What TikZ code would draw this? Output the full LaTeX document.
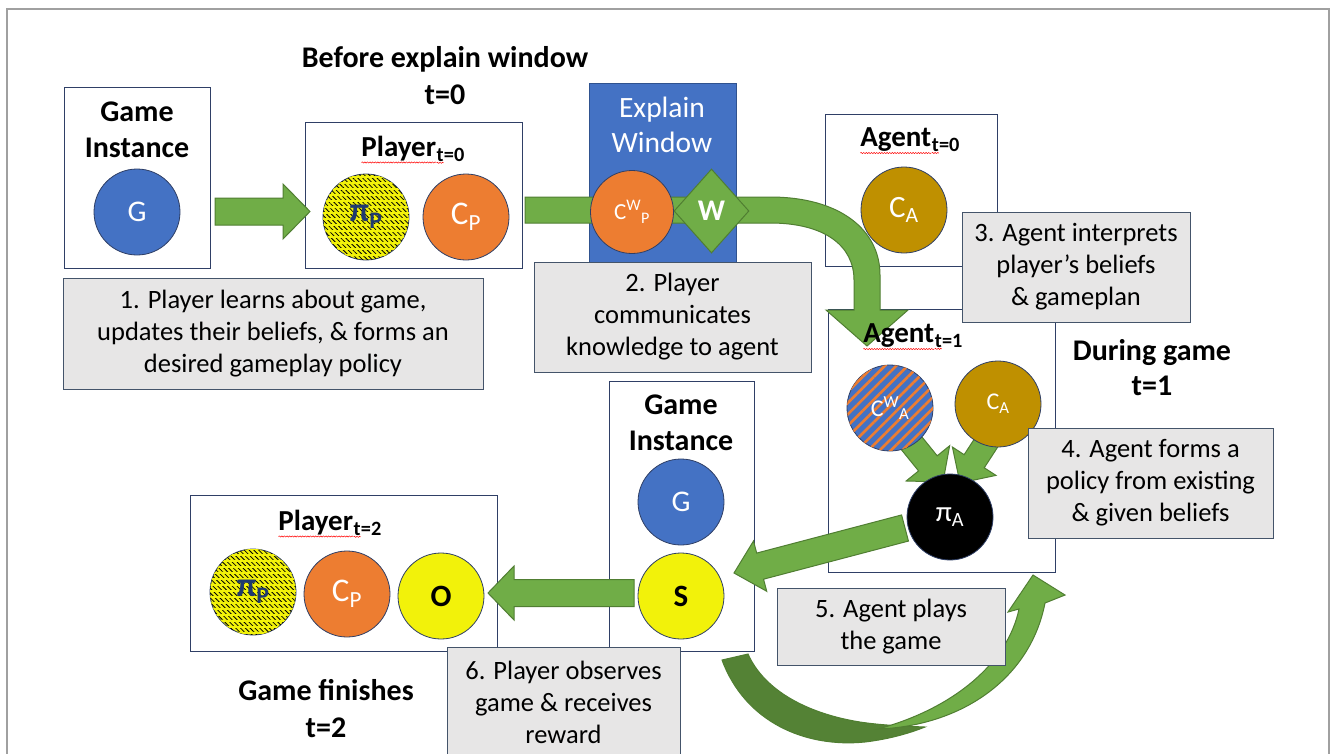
\documentclass[tikz,border=0pt]{standalone}
\usepackage{fontspec}
\setmainfont{Carlito}
\usetikzlibrary{calc,patterns.meta,decorations.pathmorphing,shapes.geometric}

\definecolor{gblue}{HTML}{4472C4}
\definecolor{gblueline}{HTML}{2F528F}
\definecolor{gorange}{HTML}{ED7D31}
\definecolor{ggold}{HTML}{BF9000}
\definecolor{ggreen}{HTML}{70AD47}
\definecolor{gdgreen}{HTML}{548235}
\definecolor{gline}{HTML}{507E32}
\definecolor{navy}{HTML}{2F3F66}
\definecolor{lblfill}{HTML}{E7E6E6}
\definecolor{lblline}{HTML}{44546A}
\definecolor{gyellow}{HTML}{F2F20A}
\definecolor{pinavy}{HTML}{1F3A70}
\definecolor{framegray}{HTML}{A0A0A0}

\newcommand\squig[1]{\tikz[baseline=(sq.base)]{\node[inner sep=0pt,outer sep=0pt,anchor=base](sq){#1};\draw[red,line width=0.5pt,decorate,decoration={snake,amplitude=0.6pt,segment length=2.6pt}] ([yshift=-1.2pt]sq.south west) -- ([yshift=-1.2pt]sq.south east);}}

% block arrow: start, tip, half shaft, half head, head length
\newcommand\blockarr[5]{%
  \coordinate (hb) at ($(#2)!#5!(#1)$);
  \filldraw[arrowfill] ($(#1)!#3!90:(#2)$) -- ($(hb)!#3!90:(#2)$) -- ($(hb)!#4!90:(#2)$) -- (#2)
    -- ($(hb)!#4!-90:(#2)$) -- ($(hb)!#3!-90:(#2)$) -- ($(#1)!#3!-90:(#2)$) -- cycle;}

\tikzset{
  bx/.style={draw=navy,line width=1pt,inner sep=0pt},
  lbl/.style={draw=lblline,fill=lblfill,line width=1pt,inner sep=0pt,align=center,
    font=\fontsize{26.5}{32}\selectfont},
  hd/.style={align=center,font=\bfseries\fontsize{30}{36}\selectfont},
  ttl/.style={font=\bfseries\fontsize{29}{30}\selectfont,inner sep=0pt},
  circ/.style={circle,draw=navy,line width=0.8pt,minimum size=86pt,inner sep=0pt},
  arrowfill/.style={fill=ggreen,draw=gline,line width=1pt,line join=miter},
  hatch/.style={fill=gyellow,
    postaction={pattern={Lines[angle=-45,distance=3.4pt,line width=0.8pt]},pattern color=black},
    postaction={pattern={Lines[angle=0,distance=6pt,line width=1.4pt]},pattern color=gyellow}},
  stripes/.style={fill=gblue,
    postaction={pattern={Lines[angle=45,distance=8pt,line width=2.6pt]},pattern color=gorange}}
}

\begin{document}
\begin{tikzpicture}[x=1pt,y=-1pt]
\useasboundingbox (0,0) rectangle (1330,753);
\fill[white] (0,0) rectangle (1330,753);
% outer frame
\draw[framegray,line width=1.3pt] (7,770) -- (7,9) -- (1329,9) -- (1329,770);

% boxes
\node[bx,minimum width=146pt,minimum height=181pt] (gi1) at (137,177.5) {};
\node[bx,minimum width=217pt,minimum height=146pt] (p0) at (413.5,195) {};
\node[bx,minimum width=172pt,minimum height=152pt] (a0) at (911,190) {};
\node[bx,minimum width=227pt,minimum height=263pt] (a1) at (941.5,440.5) {};
\node[bx,minimum width=145pt,minimum height=270pt] (gi2) at (681.5,516) {};
\node[bx,minimum width=307pt,minimum height=156pt] (p2) at (343.5,573) {};
% explain window
\node[draw=gblueline,fill=gblue,line width=1pt,minimum width=147pt,minimum height=179pt] (ew) at (662.5,172.5) {};

% arrow 1
\coordinate (a1s) at (215,211.5);
\coordinate (a1t) at (310,211.5);
\blockarr{a1s}{a1t}{13.5pt}{27.5pt}{27pt}

% arrow 2 (bent)
\coordinate (b2s) at (525,197);
\coordinate (b2t) at (867,346);
\filldraw[arrowfill] (b2s) -- (770,197) .. controls (840,197) and (880,230) .. (880,275) -- (880,310)
  -- (908,310) -- (b2t) -- (826,310) -- (854,310) -- (854,280)
  .. controls (854,246) and (825,223) .. (770,223) -- (525,223) -- cycle;

% small arrows into pi_A
\coordinate (sl1) at (896,424);
\coordinate (sl2) at (943,482);
\blockarr{sl1}{sl2}{12pt}{28pt}{24pt}
\coordinate (sr1) at (1001,420);
\coordinate (sr2) at (960,483);
\blockarr{sr1}{sr2}{12pt}{26pt}{26pt}

% arrow 5 (pi_A -> S)
\coordinate (f5s) at (905,528);
\coordinate (f5t) at (734,573);
\blockarr{f5s}{f5t}{13.5pt}{26pt}{27pt}

% arrow 6 (S -> O)
\coordinate (f6s) at (634,593);
\coordinate (f6t) at (488,593);
\blockarr{f6s}{f6t}{13.5pt}{27pt}{26pt}

% curved arrow at the bottom
\coordinate (c5s) at (722,660);
\coordinate (c5t) at (1033,575);
\filldraw[fill=gdgreen,draw=gline,line width=1pt] (c5s) .. controls (745,722) and (805,748) .. (865,742)
  .. controls (890,739) and (910,733) .. (925,727)
  .. controls (900,726) and (880,725) .. (860,722)
  .. controls (810,714) and (765,692) .. (748,654) -- cycle;
\filldraw[arrowfill] (878,729) .. controls (960,726) and (1030,680) .. (1045,603) -- (1065,595) -- (c5t)
  -- (1008,612) -- (1019,609) .. controls (1008,662) and (955,708) .. (878,729) -- cycle;

% circles
\node[circ,fill=gblue,text=white,font=\fontsize{30}{30}\selectfont] (g1) at (137,212) {G};
\node[circ,hatch,text=pinavy,font=\bfseries\fontsize{34}{34}\selectfont] (pp0) at (366,217) {π\textsubscript{P}};
\node[circ,fill=gorange,text=white,font=\fontsize{33}{33}\selectfont] (cp0) at (466,217) {C\textsubscript{P}};
\node[circ,minimum size=83pt,fill=gorange,text=white,font=\fontsize{23}{23}\selectfont] (cwp) at (632,212) {C\textsuperscript{W}\textsubscript{P}};
\node[diamond,draw=gline,fill=ggreen,line width=1pt,minimum width=75pt,minimum height=84pt,inner sep=0pt,text=white,font=\bfseries\fontsize{30}{30}\selectfont] (wd) at (711.5,211) {W};
\node[circ,fill=ggold,text=white,font=\fontsize{31}{31}\selectfont] (ca0) at (904,210) {C\textsubscript{A}};
\node[circ,stripes,text=white,font=\fontsize{24}{24}\selectfont] (cwa) at (890,408) {C\textsuperscript{W}\textsubscript{A}};
\node[circ,fill=ggold,text=white,font=\fontsize{24}{24}\selectfont] (ca1) at (998,404) {C\textsubscript{A}};
\node[circ,fill=black,text=white,font=\fontsize{29}{29}\selectfont] (pia) at (950,517) {π\textsubscript{A}};
\node[circ,fill=gblue,text=white,font=\fontsize{30}{30}\selectfont] (g2) at (681,502) {G};
\node[circ,fill=gyellow,font=\bfseries\fontsize{31}{31}\selectfont] (s) at (681,596) {S};
\node[circ,hatch,text=pinavy,font=\bfseries\fontsize{34}{34}\selectfont] (pp2) at (253,592) {π\textsubscript{P}};
\node[circ,fill=gorange,text=white,font=\fontsize{33}{33}\selectfont] (cp2) at (347,594) {C\textsubscript{P}};
\node[circ,fill=gyellow,font=\bfseries\fontsize{31}{31}\selectfont] (o) at (441,596) {O};

% labels
\node[lbl,minimum width=420pt,minimum height=111pt] (lab1) at (273,333.5) {1. Player learns about game,\\updates their beliefs, \& forms an\\desired gameplay policy};
\node[lbl,minimum width=277pt,minimum height=110pt] (lab2) at (672.5,317) {2. Player\\communicates\\knowledge to agent};
\node[lbl,minimum width=228pt,minimum height=110pt] (lab3) at (1076,267) {3. Agent interprets\\player’s beliefs\\\& gameplan};
\node[lbl,minimum width=245pt,minimum height=110pt] (lab4) at (1150.5,483) {4. Agent forms a\\policy from existing\\\& given beliefs};
\node[lbl,minimum width=228pt,minimum height=77pt] (lab5) at (891,626.5) {5. Agent plays\\the game};
\node[lbl,minimum width=233pt,minimum height=110pt] (lab6) at (563.5,702) {6. Player observes\\game \& receives\\reward};

% titles
\node[hd] (tgi1) at (137,130) {Game\\Instance};
\node[hd] (tgi2) at (681,423) {Game\\Instance};
\node[align=center,text=white,font=\fontsize{29.5}{35}\selectfont] (tew) at (662,125) {Explain\\Window};
\node[ttl] (tp0) at (413,150) {\squig{Player}\textsubscript{\squig{t}=0}};
\node[ttl] (ta0) at (910,141) {\squig{Agent}\textsubscript{\squig{t}=0}};
\node[ttl] (ta1) at (913,337) {\squig{Agent}\textsubscript{\squig{t}=1}};
\node[ttl] (tp2) at (330,524) {\squig{Player}\textsubscript{\squig{t}=2}};
\node[hd,font=\bfseries\fontsize{30}{37}\selectfont] (hbefore) at (445,76) {Before explain window\\t=0};
\node[hd,font=\bfseries\fontsize{30}{35}\selectfont] (hduring) at (1152,368) {During game\\t=1};
\node[hd,font=\bfseries\fontsize{30}{37}\selectfont] (hfin) at (326,709) {Game finishes\\t=2};
\end{tikzpicture}
\end{document}
